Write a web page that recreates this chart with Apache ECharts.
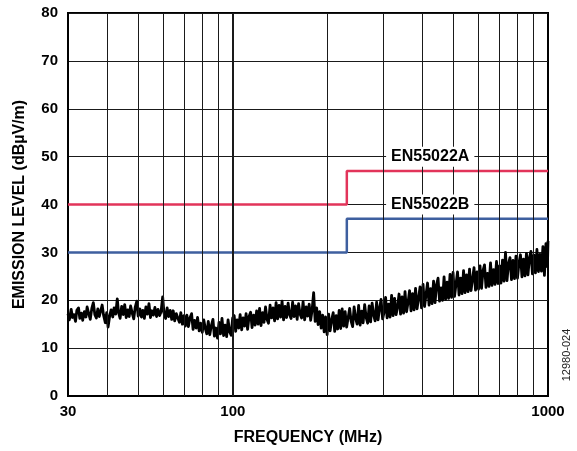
<!DOCTYPE html>
<html>
<head>
<meta charset="utf-8">
<script src="https://cdn.jsdelivr.net/npm/echarts@6/dist/echarts.min.js"></script>
<style>
html,body{margin:0;padding:0;background:#fff;}
#chart{width:577px;height:451px;}
</style>
</head>
<body>
<div id="chart"></div>
<script>
// ---- data ----
var xTickLabels = [30, 100, 1000];
var yTicks = [0, 10, 20, 30, 40, 50, 60, 70, 80];
var xMinorGrid = [40, 50, 60, 70, 80, 90, 200, 300, 400, 500, 600, 700, 800, 900];
var xMajorGrid = [100];

var limitAFreq = [30, 230, 230, 1000];
var limitALevel = [40, 40, 47, 47];
var limitBFreq = [30, 230, 230, 1000];
var limitBLevel = [30, 30, 37, 37];

var labelA = { text: 'EN55022A', freq: 423, level: 50 };
var labelB = { text: 'EN55022B', freq: 423, level: 40 };

var traceFreq = [
  30.0, 30.3, 30.7, 31.0, 31.3, 31.7, 32.0, 32.4, 32.7, 33.1,
  33.4, 33.8, 34.2, 34.5, 34.9, 35.3, 35.7, 36.1, 36.5, 36.9,
  37.3, 37.7, 38.1, 38.5, 38.9, 39.4, 39.8, 40.2, 40.7, 41.1,
  41.6, 42.0, 42.5, 43.0, 43.4, 43.9, 44.4, 44.9, 45.4, 45.9,
  46.4, 46.9, 47.4, 48.0, 48.5, 49.0, 49.6, 50.1, 50.7, 51.3,
  51.8, 52.4, 53.0, 53.6, 54.2, 54.8, 55.4, 56.0, 56.6, 57.3,
  57.9, 58.6, 59.2, 59.9, 60.5, 61.2, 61.9, 62.6, 63.3, 64.0,
  64.7, 65.4, 66.2, 66.9, 67.7, 68.4, 69.2, 70.0, 70.7, 71.5,
  72.3, 73.1, 74.0, 74.8, 75.6, 76.5, 77.3, 78.2, 79.1, 80.0,
  80.9, 81.8, 82.7, 83.6, 84.5, 85.5, 86.5, 87.4, 88.4, 89.4,
  90.4, 91.4, 92.4, 93.5, 94.5, 95.6, 96.6, 97.7, 98.8, 99.9,
  101.0, 102.1, 103.2, 104.4, 105.5, 106.7, 107.8, 109.0, 110.2, 111.4,
  112.6, 113.9, 115.1, 116.4, 117.7, 119.0, 120.3, 121.6, 122.9, 124.3,
  125.6, 127.0, 128.4, 129.8, 131.3, 132.7, 134.2, 135.7, 137.2, 138.7,
  140.2, 141.8, 143.3, 144.9, 146.5, 148.1, 149.8, 151.4, 153.1, 154.8,
  156.5, 158.2, 160.0, 161.7, 163.5, 165.3, 167.1, 169.0, 170.9, 172.8,
  174.7, 176.6, 178.5, 180.5, 182.5, 184.5, 186.5, 188.6, 190.7, 192.8,
  194.9, 197.0, 199.2, 201.4, 203.6, 205.9, 208.2, 210.5, 212.8, 215.1,
  217.5, 219.9, 222.3, 224.8, 227.2, 229.7,
  232.2, 234.8, 237.4, 240.0, 242.6, 245.3, 248.0, 250.7, 253.5, 256.3,
  259.1, 262.0, 264.9, 267.8, 270.7, 273.7, 276.7, 279.7, 282.8, 285.9,
  289.0, 292.2, 295.4, 298.7, 302.0, 305.3, 308.7, 312.1, 315.5, 319.0,
  322.5, 326.0, 329.6, 333.2, 336.9, 340.6, 344.3, 348.1, 351.9, 355.8,
  359.7, 363.7, 367.7, 371.7, 375.8, 380.0, 384.2, 388.4, 392.7, 397.0,
  401.4, 405.8, 410.3, 414.8, 419.4, 424.0, 428.7, 433.4, 438.2, 443.0,
  447.9, 452.8, 457.8, 462.9, 468.0, 473.1, 478.3, 483.6, 488.9, 494.3,
  499.7, 505.2, 510.8, 516.4, 522.1, 527.9, 533.7, 539.6, 545.5, 551.5,
  557.6, 563.7, 569.9, 576.2, 582.5, 588.9, 595.4, 602.0, 608.6, 615.3,
  622.1, 628.9, 635.8, 642.8, 649.9, 657.1, 664.3, 671.6, 679.0, 686.5,
  694.0, 701.7, 709.4, 717.2, 725.1, 733.1, 741.1, 749.3, 757.5, 765.9,
  774.3, 782.8, 791.4, 800.1, 808.9, 817.8, 826.8, 835.9, 845.1, 854.4,
  863.8, 873.3, 882.9, 892.6, 902.4, 912.3, 922.3, 932.5, 942.7, 953.1,
  963.6, 974.2, 984.9, 995.7, 1000
];
var traceLevel = [
  17.2, 15.9, 18.1, 16.4, 17.0, 15.6, 17.9, 18.4, 16.2, 17.3,
  15.8, 17.6, 16.5, 18.6, 17.2, 16.0, 18.3, 19.5, 17.0, 16.3,
  18.2, 16.6, 17.8, 19.0, 16.9, 15.3, 17.4, 14.4, 16.8, 18.0,
  16.5, 18.4, 17.1, 20.3, 17.4, 16.2, 18.7, 17.0, 19.1, 16.4,
  18.0, 16.6, 18.8, 17.2, 16.1, 18.5, 19.8, 16.7, 18.2, 16.5,
  17.9, 16.2, 18.6, 17.1, 19.3, 16.4, 17.8, 16.9, 18.5, 16.6,
  18.1, 16.8, 17.6, 20.7, 17.3, 16.2, 18.4, 16.6, 17.9, 16.0,
  17.8, 15.7, 17.2, 16.3, 15.4, 17.4, 15.0, 16.8, 14.6, 16.9,
  14.5, 16.3, 17.2, 13.9, 15.8, 14.2, 16.4, 13.6, 15.2, 13.3,
  15.9, 14.1, 13.0, 15.6, 12.8, 14.7, 16.0, 12.5, 14.2, 12.1,
  15.4, 13.0, 16.2, 12.6, 14.8, 12.4, 15.9, 13.4, 12.7, 16.3,
  16.8, 13.5, 15.9, 14.2, 17.0, 13.8, 16.3, 14.6, 17.2, 13.9,
  16.6, 17.5, 14.3, 16.9, 14.8, 17.8, 15.0, 18.3, 14.7, 17.4,
  15.4, 18.6, 16.0, 15.2, 19.0, 16.3, 18.4, 15.7, 19.5, 16.1,
  18.9, 16.5, 19.8, 15.9, 18.7, 16.4, 19.4, 17.0, 16.2, 19.6,
  16.6, 18.8, 16.0, 19.3, 17.1, 16.3, 19.7, 15.9, 18.6, 16.7,
  19.2, 15.8, 18.0, 21.6, 15.6, 18.4, 14.9, 17.6, 14.2, 16.9,
  13.4, 16.5, 12.8, 17.1, 13.6, 15.9, 17.4, 13.5, 16.8, 14.0,
  17.9, 14.1, 18.2, 14.6, 17.6, 14.4,
  14.7, 18.3, 15.6, 14.5, 18.6, 16.2, 15.0, 18.9, 14.8, 17.7,
  15.3, 19.1, 16.4, 15.2, 18.8, 15.5, 19.4, 17.0, 15.7, 19.6,
  15.9, 18.4, 20.2, 16.1, 17.5, 20.6, 16.3, 19.2, 16.5, 21.0,
  16.8, 20.4, 17.0, 18.6, 21.3, 17.1, 20.7, 17.3, 21.8, 17.6,
  19.5, 22.0, 17.8, 21.4, 18.0, 22.5, 18.2, 20.4, 22.8, 18.4,
  23.3, 18.7, 21.2, 23.6, 19.0, 22.4, 19.3, 24.0, 19.5, 23.2,
  24.6, 19.8, 22.6, 20.0, 24.9, 20.2, 23.8, 20.4, 25.4, 20.6,
  25.8, 20.8, 23.4, 25.9, 21.1, 24.6, 21.4, 26.2, 21.6, 25.3,
  21.8, 26.5, 22.0, 24.4, 26.8, 22.1, 25.9, 22.3, 27.2, 22.5,
  26.2, 27.4, 22.7, 25.6, 22.9, 27.8, 23.1, 26.4, 23.3, 28.1,
  23.5, 27.2, 23.6, 28.4, 24.0, 30.0, 24.1, 27.6, 28.9, 24.3,
  28.3, 24.5, 29.2, 24.6, 27.8, 29.5, 24.9, 28.6, 25.1, 29.8,
  25.3, 28.9, 30.2, 25.5, 29.4, 25.7, 30.6, 26.0, 29.6, 26.1,
  31.2, 25.2, 31.8, 27.0, 32.4
];

function zip(a, b) { var r = []; for (var i = 0; i < a.length; i++) r.push([a[i], b[i]]); return r; }

var FONT = '"Liberation Sans", Arial, sans-serif';
var chart = echarts.init(document.getElementById('chart'), null, { renderer: 'canvas' });

function gridMark(vals, w) {
  return {
    silent: true, symbol: 'none', animation: false,
    label: { show: false },
    lineStyle: { color: '#1a1a1a', width: w, type: 'solid' },
    data: vals.map(function (v) { return { xAxis: v }; })
  };
}

function textLabel(lbl) {
  return {
    symbol: 'rect', symbolSize: 0, silent: true,
    label: {
      show: true, formatter: lbl.text, position: 'inside',
      fontFamily: FONT, fontWeight: 'bold', fontSize: 16, color: '#000',
      backgroundColor: '#fff', padding: [2, 5]
    },
    data: [{ coord: [lbl.freq, lbl.level] }]
  };
}

var option = {
  animation: false,
  backgroundColor: '#fff',
  grid: { left: 68, right: 29, top: 13, bottom: 55, show: true, borderColor: '#000', borderWidth: 2, backgroundColor: 'transparent' },
  xAxis: {
    type: 'log', logBase: 10, min: 30, max: 1000,
    name: 'FREQUENCY (MHz)', nameLocation: 'middle', nameGap: 34,
    nameTextStyle: { fontFamily: FONT, fontWeight: 'bold', fontSize: 16, color: '#000' },
    axisLine: { show: true, lineStyle: { color: '#000', width: 2 } },
    axisTick: { show: false },
    splitLine: { show: false },
    axisLabel: {
      fontFamily: FONT, fontWeight: 'bold', fontSize: 15, color: '#000', margin: 8,
      showMinLabel: true, showMaxLabel: true,
      formatter: function (v) {
        var r = Math.round(v);
        return xTickLabels.indexOf(r) >= 0 ? String(r) : '';
      }
    }
  },
  yAxis: {
    type: 'value', min: 0, max: 80, interval: 10,
    name: 'EMISSION LEVEL (dBµV/m)', nameLocation: 'middle', nameGap: 40,
    nameTextStyle: { fontFamily: FONT, fontWeight: 'bold', fontSize: 16, color: '#000' },
    axisLine: { show: true, lineStyle: { color: '#000', width: 2 } },
    axisTick: { show: false },
    splitLine: { show: true, lineStyle: { color: '#1a1a1a', width: 1 } },
    axisLabel: {
      fontFamily: FONT, fontWeight: 'bold', fontSize: 15, color: '#000', margin: 10,
      formatter: function (v) { return yTicks.indexOf(v) >= 0 ? String(v) : ''; }
    }
  },
  series: [
    {
      type: 'line', name: 'grid', data: [], z: 1, silent: true,
      markLine: gridMark(xMinorGrid, 1)
    },
    {
      type: 'line', name: 'grid100', data: [], z: 1, silent: true,
      markLine: gridMark(xMajorGrid, 2)
    },
    {
      type: 'line', name: 'Emission', data: zip(traceFreq, traceLevel), z: 3,
      symbol: 'none', sampling: null,
      lineStyle: { color: '#000', width: 2.8, join: 'round' }
    },
    {
      type: 'line', name: 'EN55022A', data: zip(limitAFreq, limitALevel), z: 4,
      symbol: 'none', lineStyle: { color: '#e2345a', width: 2.5 },
      markPoint: textLabel(labelA)
    },
    {
      type: 'line', name: 'EN55022B', data: zip(limitBFreq, limitBLevel), z: 4,
      symbol: 'none', lineStyle: { color: '#3e5f9f', width: 2.5 },
      markPoint: textLabel(labelB)
    }
  ],
  graphic: [
    {
      type: 'text', x: 567, y: 355, rotation: Math.PI / 2,
      style: { text: '12980-024', fontFamily: FONT, fontSize: 11, fill: '#222', align: 'center', verticalAlign: 'middle' }
    }
  ]
};
chart.setOption(option);
</script>
</body>
</html>
